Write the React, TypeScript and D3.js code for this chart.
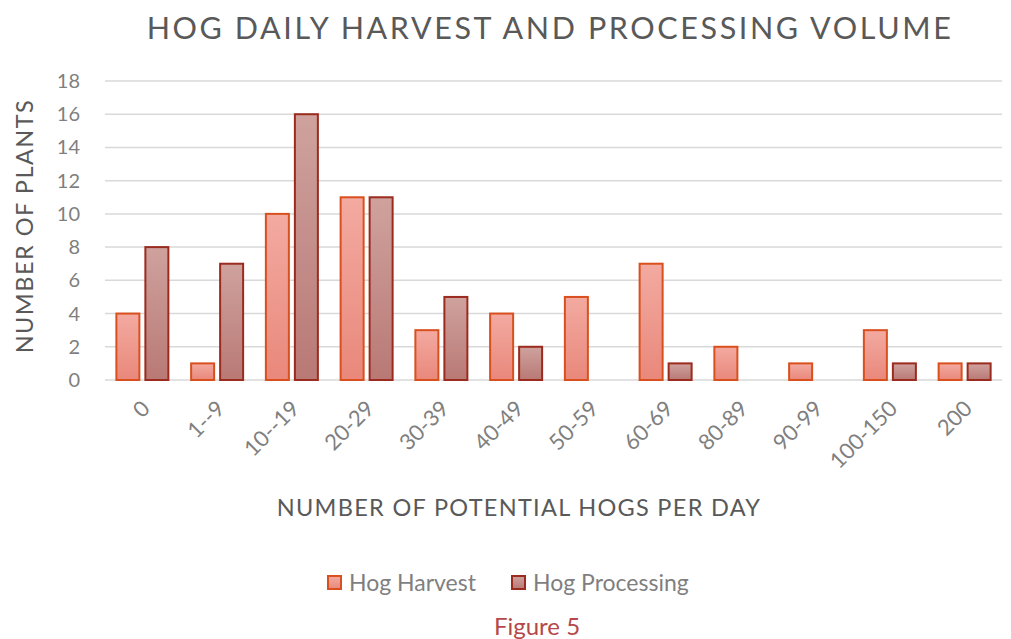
import React from "react";
import * as d3 from "d3";

const categories = ["0", "1--9", "10--19", "20-29", "30-39", "40-49", "50-59", "60-69", "80-89", "90-99", "100-150", "200"];
const harvest = [4, 1, 10, 11, 3, 4, 5, 7, 2, 1, 3, 1];
const processing = [8, 7, 16, 11, 5, 2, 0, 1, 0, 0, 1, 1];
const yTicks = [0, 2, 4, 6, 8, 10, 12, 14, 16, 18];
const seriesNames = ["Hog Harvest", "Hog Processing"];

const W = 1011, H = 639;
const left = 105, right = 1002, top = 81, bottom = 380;
const font = "Lato, 'Open Sans', sans-serif";

export default function App() {
  const x = d3.scaleBand<string>().domain(categories).range([left, right]).paddingInner(0).paddingOuter(0);
  const y = d3.scaleLinear().domain([0, 18]).range([bottom, top]);
  const bw = x.bandwidth();
  const barW = 23;
  const gap = 6;
  const series = [
    { name: seriesNames[0], vals: harvest, fill: "url(#gH)", stroke: "#d9501e" },
    { name: seriesNames[1], vals: processing, fill: "url(#gP)", stroke: "#9a2b1e" },
  ];
  return (
    <svg width={W} height={H} style={{ display: "block", position: "absolute", left: 0, top: 0 }} fontFamily={font}>
      <defs>
        <linearGradient id="gH" x1="0" y1="0" x2="0" y2="1">
          <stop offset="0" stopColor="#f3aaa1" />
          <stop offset="1" stopColor="#e9887b" />
        </linearGradient>
        <linearGradient id="gP" x1="0" y1="0" x2="0" y2="1">
          <stop offset="0" stopColor="#cfa29e" />
          <stop offset="1" stopColor="#b97975" />
        </linearGradient>
      </defs>
      <rect width={W} height={H} fill="#fff" />
      <text x={550} y={39} textAnchor="middle" fontSize={30.5} fill="#595959" letterSpacing={2.6}>HOG DAILY HARVEST AND PROCESSING VOLUME</text>
      {yTicks.map((t) => (
        <g key={t}>
          <line x1={left} x2={right} y1={y(t)} y2={y(t)} stroke="#d9d9d9" strokeWidth={1.5} />
          <text x={80} y={y(t) + 7} textAnchor="end" fontSize={20} fill="#7f7f7f">{t}</text>
        </g>
      ))}
      {series.map((s, si) => (
        <g key={s.name}>
          {s.vals.map((v, i) => {
            if (v <= 0) return null;
            const c = (x(categories[i]) as number) + bw / 2;
            const bx = si === 0 ? c - gap / 2 - barW : c + gap / 2;
            return (
              <rect key={i} x={bx} y={y(v)} width={barW} height={y(0) - y(v)} fill={s.fill} stroke={s.stroke} strokeWidth={2} />
            );
          })}
        </g>
      ))}
      {categories.map((c) => {
        const cx = (x(c) as number) + bw / 2 + 9;
        return (
          <text key={c} transform={`translate(${cx},${410}) rotate(-45)`} textAnchor="end" fontSize={22} fill="#7f7f7f">{c}</text>
        );
      })}
      <text transform={`translate(33,${226}) rotate(-90)`} textAnchor="middle" fontSize={23.5} fill="#595959" letterSpacing={1.5}>NUMBER OF PLANTS</text>
      <text x={519} y={516} textAnchor="middle" fontSize={23.5} fill="#595959" letterSpacing={1.3}>NUMBER OF POTENTIAL HOGS PER DAY</text>
      <g>
        <rect x={328} y={576} width={13} height={13} fill="url(#gH)" stroke="#d9501e" strokeWidth={2} />
        <text x={349} y={591} fontSize={23} fill="#7f7f7f">{seriesNames[0]}</text>
        <rect x={512} y={576} width={13} height={13} fill="url(#gP)" stroke="#9a2b1e" strokeWidth={2} />
        <text x={533} y={591} fontSize={23} fill="#7f7f7f">{seriesNames[1]}</text>
      </g>
      <text x={537} y={635} textAnchor="middle" fontSize={24} fill="#b5484a">Figure 5</text>
    </svg>
  );
}
